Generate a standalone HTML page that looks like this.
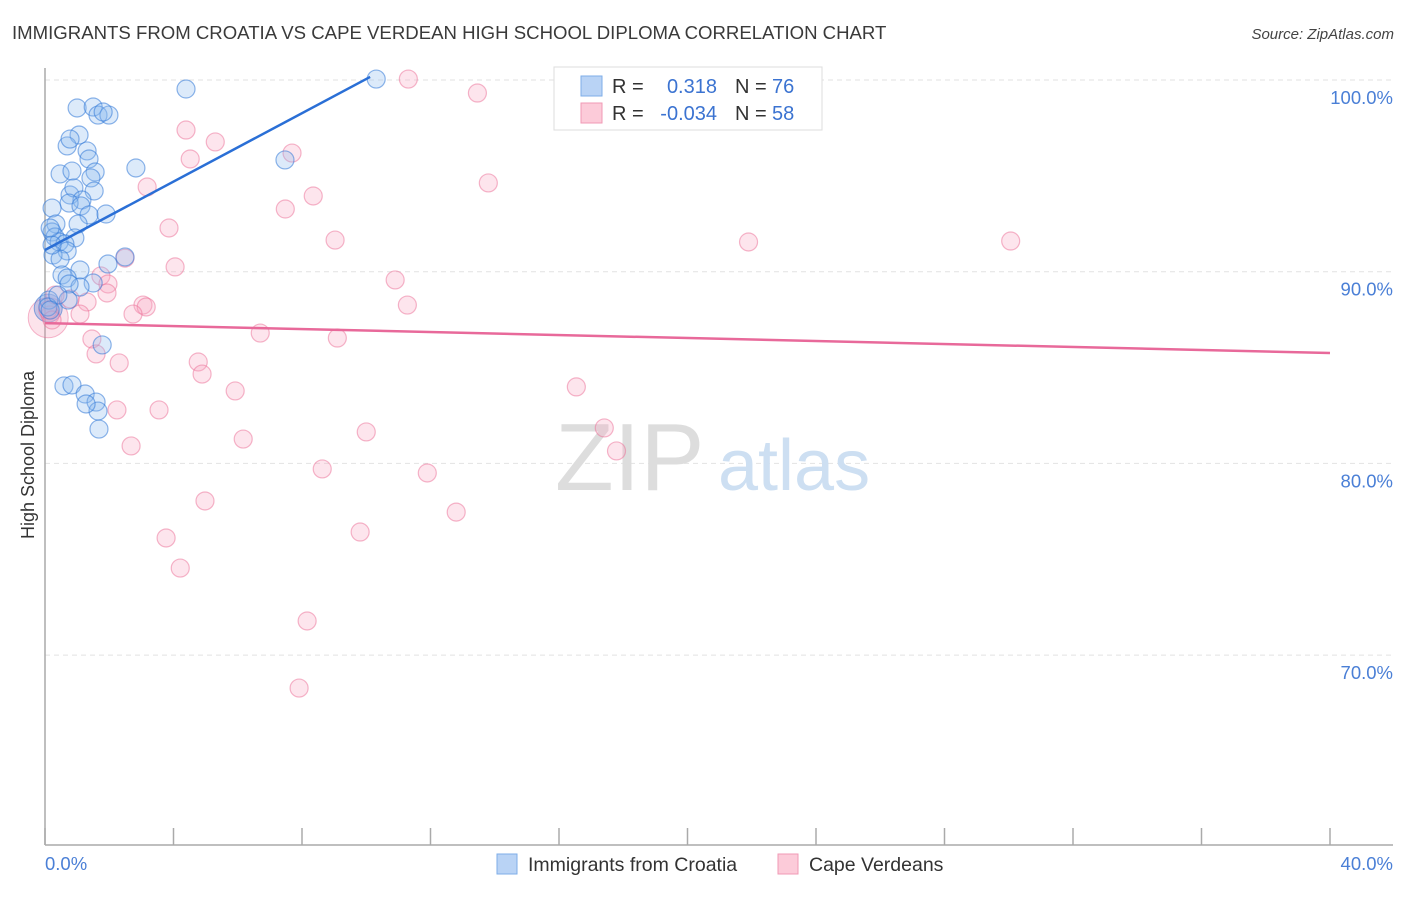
<!DOCTYPE html>
<html><head><meta charset="utf-8"><style>
body{margin:0;background:#fff;font-family:"Liberation Sans",sans-serif;}
svg text{font-family:"Liberation Sans",sans-serif;}
</style></head><body>
<svg id="chart" width="1406" height="892" viewBox="0 0 1406 892" xmlns="http://www.w3.org/2000/svg">
<text x="12" y="39" font-size="18.6" fill="#3a3a3a">IMMIGRANTS FROM CROATIA VS CAPE VERDEAN HIGH SCHOOL DIPLOMA CORRELATION CHART</text>
<text x="1394" y="39" font-size="15" fill="#444" text-anchor="end" font-style="italic">Source: ZipAtlas.com</text>
<g id="grid"></g>
<g>
<text x="555" y="490" font-size="96" fill="#ddd" font-family="Liberation Serif, serif">ZIP</text>
<text x="718" y="490" font-size="72" fill="#cddff2">atlas</text>
</g>
<line x1="45" y1="68" x2="45" y2="845" stroke="#aaa" stroke-width="1.5"/>
<line x1="45" y1="845" x2="1393" y2="845" stroke="#aaa" stroke-width="1.5"/>
<g id="xticks"></g>
<text transform="translate(34,455) rotate(-90)" font-size="18" fill="#333" text-anchor="middle">High School Diploma</text>
<text x="45" y="870" font-size="18.5" fill="#4a7fd6">0.0%</text>
<text x="1393" y="870" font-size="18.5" fill="#4a7fd6" text-anchor="end">40.0%</text>
<g id="pts"></g>
<g id="trend"></g>
<g>
<rect x="554" y="67" width="268" height="63" fill="#fff" stroke="#ddd"/>
<rect x="581" y="76" width="21" height="20" fill="#b9d3f5" stroke="#7eaee8"/>
<rect x="581" y="103" width="21" height="20" fill="#fccbd9" stroke="#f09ab5"/>
<text x="612" y="93" font-size="20" fill="#333">R =</text>
<text x="717" y="93" font-size="20" fill="#3b73d1" text-anchor="end">0.318</text>
<text x="735" y="93" font-size="20" fill="#333">N =</text>
<text x="772" y="93" font-size="20" fill="#3b73d1">76</text>
<text x="612" y="120" font-size="20" fill="#333">R =</text>
<text x="717" y="120" font-size="20" fill="#3b73d1" text-anchor="end">-0.034</text>
<text x="735" y="120" font-size="20" fill="#333">N =</text>
<text x="772" y="120" font-size="20" fill="#3b73d1">58</text>
</g>
<g>
<rect x="497" y="854" width="20" height="20" fill="#b9d3f5" stroke="#7eaee8"/>
<text x="528" y="871" font-size="19.5" fill="#333">Immigrants from Croatia</text>
<rect x="778" y="854" width="20" height="20" fill="#fccbd9" stroke="#f09ab5"/>
<text x="809" y="871" font-size="19.5" fill="#333">Cape Verdeans</text>
</g>
</svg>
<script>
const yTicks=[100,90,80,70];
const yTickLabels=["100.0%","90.0%","80.0%","70.0%"];
const xTicks=[0,4,8,12,16,20,24,28,32,36,40];
const blueX=[4.39,1.00,1.50,1.65,1.99,1.81,1.06,0.69,0.78,1.31,1.37,0.47,0.84,1.56,1.43,2.83,7.47,10.31,0.78,1.53,0.90,1.15,0.75,1.12,1.37,1.90,0.22,0.34,1.03,0.22,0.31,0.44,0.93,0.62,0.69,0.25,0.47,2.49,1.96,1.09,0.53,0.69,1.50,1.09,0.75,0.12,0.09,0.72,0.40,1.78,0.59,0.84,1.25,1.59,1.65,1.28,1.68,0.16,0.22,0.16];
const blueY=[99.53,98.54,98.59,98.17,98.17,98.33,97.13,96.56,96.92,96.30,95.88,95.10,95.25,95.20,94.89,95.41,95.83,100.05,94.00,94.21,94.37,93.74,93.58,93.43,92.96,93.01,93.32,92.49,92.49,92.07,91.81,91.55,91.76,91.45,91.08,90.87,90.66,90.77,90.40,90.09,89.83,89.67,89.41,89.20,89.36,88.52,88.16,88.52,88.78,86.18,84.04,84.09,83.62,83.20,82.73,83.10,81.79,88.00,91.39,92.28];
const pinkX=[11.31,13.46,4.39,5.30,4.52,7.69,3.18,8.35,13.80,7.48,3.86,9.03,21.90,30.06,4.05,10.90,1.74,1.96,2.49,1.93,1.31,0.78,3.05,3.15,2.74,1.09,11.28,0.16,6.70,9.10,1.46,1.59,2.31,4.77,4.89,5.92,16.54,2.24,3.55,6.17,2.68,10.00,17.41,17.79,8.63,11.90,4.98,12.80,3.77,9.81,4.21,8.16,7.91,0.09,0.31,0.22];
const pinkY=[100.05,99.32,97.39,96.77,95.88,96.19,94.42,93.95,94.63,93.27,92.28,91.65,91.55,91.60,90.25,89.57,89.78,89.36,90.71,88.89,88.42,88.58,88.26,88.16,87.79,87.79,88.26,87.74,86.80,86.54,86.49,85.71,85.24,85.29,84.66,83.78,83.99,82.79,82.79,81.27,80.91,81.64,81.85,80.65,79.71,79.50,78.04,77.46,76.11,76.42,74.54,71.78,68.28,88.00,88.78,87.48];
const blueTrend=[[0,91.13],[10.12,100.16]];
const pinkTrend=[[0,87.32],[40,85.76]];
const NS="http://www.w3.org/2000/svg";
const sx=v=>45+v*(1285/40);
const sy=v=>80+(100-v)*19.17;
function mk(t,a,p){const e=document.createElementNS(NS,t);for(const k in a)e.setAttribute(k,a[k]);p.appendChild(e);return e;}
const grid=document.getElementById('grid');
yTicks.forEach((t,i)=>{
 const l=mk('line',{x1:45,x2:1393,y1:sy(t),y2:sy(t),stroke:'#e2e2e2','stroke-dasharray':'5,4'},grid);
 
 
 const tx=mk('text',{x:1393,y:sy(t)+24,'font-size':18.5,fill:'#4a7fd6','text-anchor':'end'},grid);
 tx.textContent=yTickLabels[i];
 
 
});
const xt=document.getElementById('xticks');
xTicks.forEach(t=>{
 const l=mk('line',{x1:sx(t),x2:sx(t),y1:828,y2:845,stroke:'#aaa','stroke-width':1.5},xt);
 
 
});
const pts=document.getElementById('pts');
const big1=mk('circle',{cx:sx(0.1),cy:sy(87.6),r:20,fill:'rgba(244,143,177,0.25)',stroke:'rgba(236,100,145,0.45)'},pts);


const big2=mk('circle',{cx:sx(0.1),cy:sy(88.1),r:14,fill:'rgba(100,130,210,0.35)',stroke:'rgba(60,120,210,0.6)'},pts);


pinkX.forEach((x,i)=>{
 const c=mk('circle',{cx:sx(x),cy:sy(pinkY[i]),r:9,fill:'rgba(248,170,196,0.3)',stroke:'rgba(236,110,150,0.5)','stroke-width':1.2},pts);
 
 
});
blueX.forEach((x,i)=>{
 const c=mk('circle',{cx:sx(x),cy:sy(blueY[i]),r:9,fill:'rgba(140,185,240,0.3)',stroke:'rgba(50,120,215,0.55)','stroke-width':1.2},pts);
 
 
});
const tr=document.getElementById('trend');
const bl=mk('line',{x1:sx(blueTrend[0][0]),y1:sy(blueTrend[0][1]),x2:sx(blueTrend[1][0]),y2:sy(blueTrend[1][1]),stroke:'#2a6fd6','stroke-width':2.5},tr);


const pl=mk('line',{x1:sx(pinkTrend[0][0]),y1:sy(pinkTrend[0][1]),x2:sx(pinkTrend[1][0]),y2:sy(pinkTrend[1][1]),stroke:'#e8699a','stroke-width':2.5},tr);


</script>
</body></html>
